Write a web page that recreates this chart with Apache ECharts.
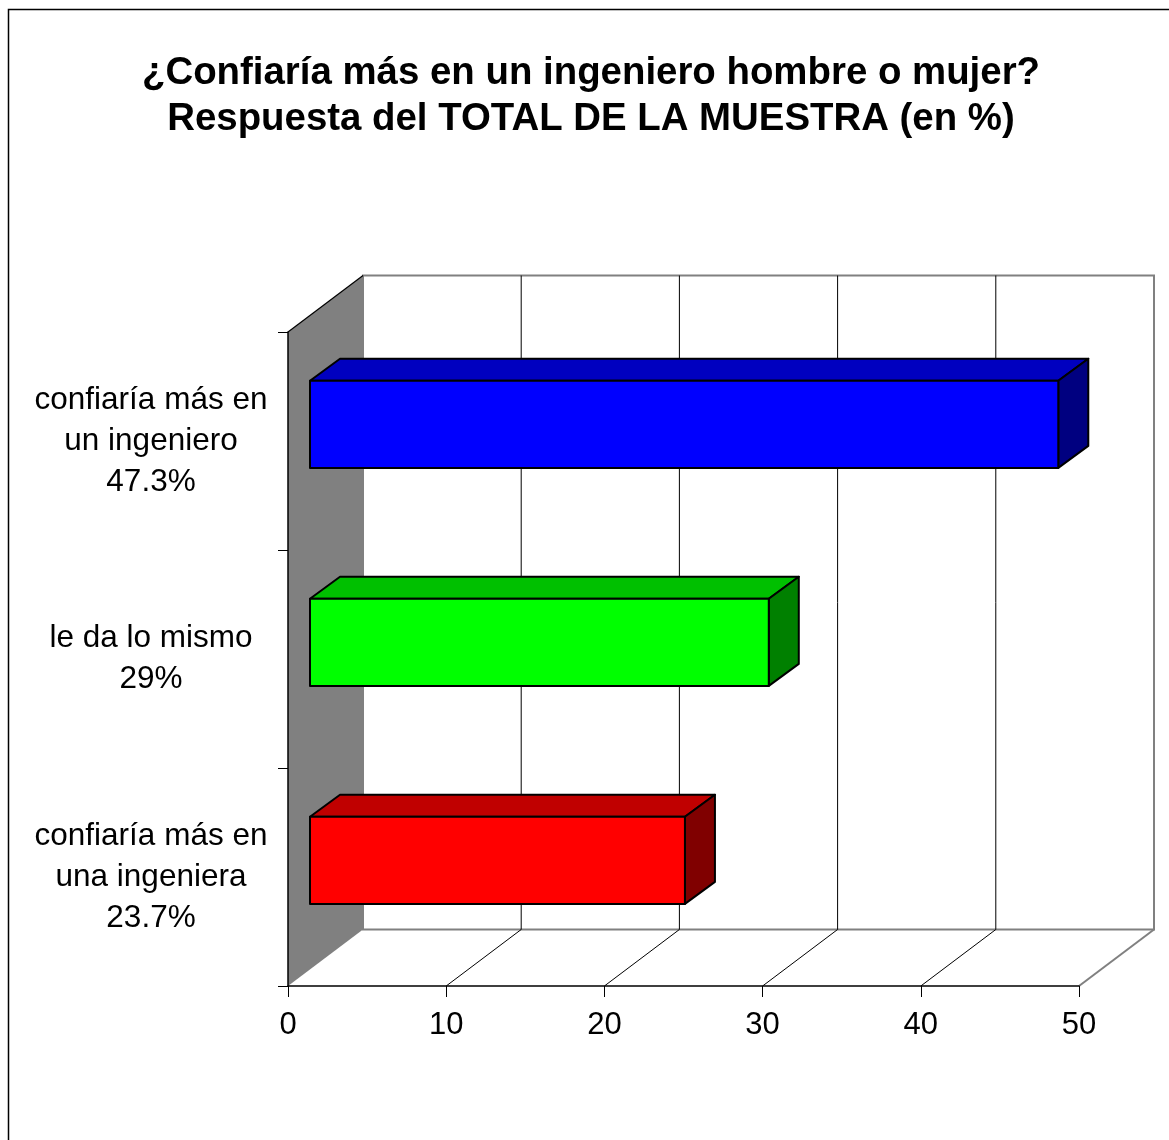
<!DOCTYPE html>
<html>
<head>
<meta charset="utf-8">
<title>¿Confiaría más en un ingeniero hombre o mujer?</title>
<script src="https://cdn.jsdelivr.net/npm/echarts@6/dist/echarts.min.js"></script>
<style>
	html, body { margin: 0; padding: 0; background: #fff; }
	#chart { width: 1169px; height: 1140px; }
</style>
</head>
<body>
<div id="chart"></div>
<script>
	// datos del grafico
	var titleText = '¿Confiaría más en un ingeniero hombre o mujer?\nRespuesta del TOTAL DE LA MUESTRA (en %)';
	var categories = ['confiaría más en\nun ingeniero', 'le da lo mismo', 'confiaría más en\nuna ingeniera'];
	var values = [47.3, 29, 23.7];
	var xTicks = [0, 10, 20, 30, 40, 50];

	// colores de las caras (frente, arriba, lado)
	var frontColors = ['#0000ff', '#00ff00', '#ff0000'];
	var topColors = ['#0000c0', '#00c000', '#c00000'];
	var sideColors = ['#000080', '#008000', '#800000'];

	var FONT = '"Liberation Sans", Arial, sans-serif';
	// profundidad de la pared (efecto 3d)
	var DX = 75, DY = -56.5;
	// posicion de la barra dentro de la profundidad
	var B0X = 22, B0Y = -16.7, BDX = 30, BDY = -22;

	var myChart = echarts.init(document.getElementById('chart'));

	function renderWalls(params, api) {
		var cs = params.coordSys;
		var x = cs.x, y = cs.y, w = cs.width, h = cs.height;
		var kids = [];
		// pared del fondo
		kids.push({
			type: 'polygon',
			shape: { points: [[x + DX, y + DY], [x + w + DX, y + DY], [x + w + DX, y + h + DY], [x + DX, y + h + DY]] },
			style: { fill: '#fff', stroke: '#808080', lineWidth: 2 }
		});
		// borde derecho del piso
		kids.push({
			type: 'line',
			shape: { x1: x + w, y1: y + h, x2: x + w + DX, y2: y + h + DY },
			style: { stroke: '#808080', lineWidth: 2 }
		});
		xTicks.forEach(function (t) {
			if (t === xTicks[0] || t === xTicks[xTicks.length - 1]) return;
			var cx = api.coord([t, 0])[0];
			kids.push({
				type: 'line',
				shape: { x1: cx + DX, y1: y + DY, x2: cx + DX, y2: y + h + DY },
				style: { stroke: '#000', lineWidth: 1 }
			});
			kids.push({
				type: 'line',
				shape: { x1: cx, y1: y + h, x2: cx + DX, y2: y + h + DY },
				style: { stroke: '#000', lineWidth: 1 }
			});
		});
		// pared izquierda gris
		kids.push({
			type: 'polygon',
			shape: { points: [[x, y], [x + DX, y + DY], [x + DX, y + h + DY], [x, y + h]] },
			style: { fill: '#808080' }
		});
		kids.push({
			type: 'line',
			shape: { x1: x, y1: y, x2: x + DX, y2: y + DY },
			style: { stroke: '#000', lineWidth: 1.2 }
		});
		return { type: 'group', children: kids };
	}

	function renderBar(params, api) {
		var v = api.value(0), idx = api.value(1);
		var p0 = api.coord([0, idx]);
		var p1 = api.coord([v, idx]);
		var bh = api.size([0, 1])[1] * 0.4;
		var x0 = p0[0] + B0X, x1 = p1[0] + B0X;
		var yc = p0[1] + B0Y;
		var top = yc - bh / 2, bottom = yc + bh / 2;
		var line = { stroke: '#000', lineWidth: 2, lineJoin: 'round' };
		return {
			type: 'group',
			children: [{
				type: 'polygon',
				shape: { points: [[x0, top], [x1, top], [x1 + BDX, top + BDY], [x0 + BDX, top + BDY]] },
				style: Object.assign({ fill: topColors[idx] }, line)
			}, {
				type: 'polygon',
				shape: { points: [[x1, top], [x1 + BDX, top + BDY], [x1 + BDX, bottom + BDY], [x1, bottom]] },
				style: Object.assign({ fill: sideColors[idx] }, line)
			}, {
				type: 'rect',
				shape: { x: x0, y: top, width: x1 - x0, height: bottom - top },
				style: Object.assign({ fill: frontColors[idx] }, line)
			}]
		};
	}

	var option = {
		backgroundColor: '#fff',
		animation: false,
		graphic: [{
			type: 'rect',
			left: 6,
			top: 7,
			shape: { width: 1200, height: 1200 },
			style: { fill: 'none', stroke: '#000', lineWidth: 1.5 },
			z: -1
		}, {
			// titulo
			type: 'text',
			x: 591,
			y: 50,
			style: {
				text: titleText,
				align: 'center',
				verticalAlign: 'top',
				fontFamily: FONT,
				fontWeight: 'bold',
				fontSize: 38.4,
				lineHeight: 46,
				fill: '#000'
			}
		}],
		grid: {
			left: 288,
			right: 90,
			top: 332,
			bottom: 154
		},
		xAxis: {
			type: 'value',
			min: xTicks[0],
			max: xTicks[xTicks.length - 1],
			interval: 10,
			z: 5,
			splitLine: { show: false },
			axisLine: { show: true, lineStyle: { color: '#000', width: 1.5 } },
			axisTick: { show: true, length: 11, lineStyle: { color: '#000' } },
			axisLabel: {
				margin: 24,
				color: '#000',
				fontFamily: FONT,
				fontSize: 31
			}
		},
		yAxis: {
			type: 'category',
			data: categories,
			inverse: true,
			z: 5,
			axisLine: { show: true, lineStyle: { color: '#000', width: 1.5 } },
			axisTick: { show: true, length: 10, lineStyle: { color: '#000' } },
			axisLabel: {
				margin: 137,
				align: 'center',
				color: '#000',
				fontFamily: FONT,
				fontSize: 31.5,
				lineHeight: 41,
				formatter: function (name, i) {
					return name + '\n' + values[i] + '%';
				}
			}
		},
		series: [{
			type: 'custom',
			name: 'paredes',
			silent: true,
			z: 1,
			renderItem: renderWalls,
			data: [[0, 0]]
		}, {
			type: 'custom',
			name: 'respuesta',
			z: 3,
			renderItem: renderBar,
			encode: { x: 0, y: 1 },
			data: values.map(function (v, i) { return [v, i]; })
		}]
	};
	myChart.setOption(option);
</script>
</body>
</html>
